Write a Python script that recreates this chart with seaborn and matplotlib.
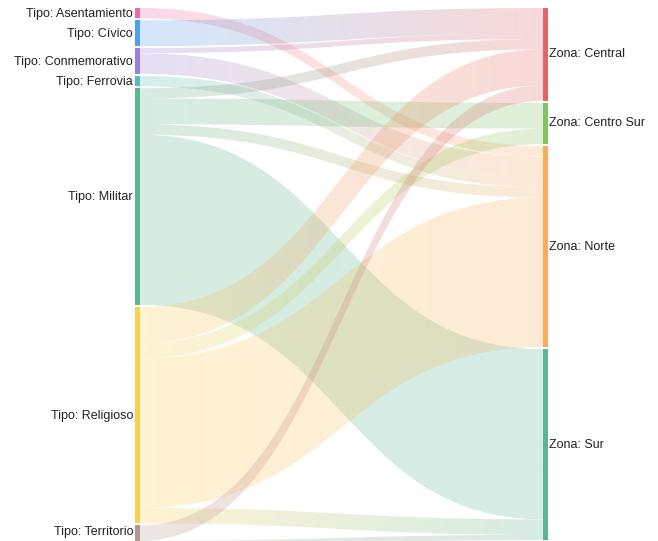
import numpy as np
import matplotlib.pyplot as plt
from matplotlib.path import Path
from matplotlib.patches import PathPatch, Rectangle
import seaborn as sns

# nodes
sources = ["Tipo: Asentamiento", "Tipo: Cívico", "Tipo: Conmemorativo", "Tipo: Ferrovia",
           "Tipo: Militar", "Tipo: Religioso", "Tipo: Territorio"]
targets = ["Zona: Central", "Zona: Centro Sur", "Zona: Norte", "Zona: Sur"]

source_colors = ["#ee6aa7", "#4f9ef0", "#9a80dd", "#55bdb8", "#5cb38f", "#fcd04f", "#b39a90"]
target_colors = ["#e36565", "#85c262", "#f8ad5c", "#5cb395"]

# links (source, target, value)
link_source = ["Tipo: Asentamiento", "Tipo: Cívico", "Tipo: Conmemorativo", "Tipo: Conmemorativo",
               "Tipo: Ferrovia", "Tipo: Militar", "Tipo: Militar", "Tipo: Militar", "Tipo: Militar",
               "Tipo: Religioso", "Tipo: Religioso", "Tipo: Religioso", "Tipo: Religioso",
               "Tipo: Territorio", "Tipo: Territorio"]
link_target = ["Zona: Norte", "Zona: Central", "Zona: Central", "Zona: Norte",
               "Zona: Norte", "Zona: Central", "Zona: Centro Sur", "Zona: Norte", "Zona: Sur",
               "Zona: Central", "Zona: Centro Sur", "Zona: Norte", "Zona: Sur",
               "Zona: Central", "Zona: Sur"]
link_value = [2, 5, 1, 4,
              2, 2, 5, 2, 33,
              7, 3, 29, 3,
              3, 1]

sns.set_style("white")
plt.rcParams['font.family'] = ['Liberation Sans', 'DejaVu Sans']

W, H = 658, 541
fig = plt.figure(figsize=(W / 100, H / 100), dpi=100)
ax = fig.add_axes([0, 0, 1, 1])
ax.set_xlim(0, W)
ax.set_ylim(H, 0)
ax.axis('off')

top, chart_h, gap = 8, 538, 2
node_w = 5
x_left, x_right = 135, 543

src_tot = {s: sum(v for ls, v in zip(link_source, link_value) if ls == s) for s in sources}
tgt_tot = {t: sum(v for lt, v in zip(link_target, link_value) if lt == t) for t in targets}
ky = min((chart_h - gap * (len(sources) - 1)) / sum(src_tot.values()),
         (chart_h - gap * (len(targets) - 1)) / sum(tgt_tot.values()))

def stack(names, tot):
    pos, y = {}, top
    for n in names:
        pos[n] = y
        y += tot[n] * ky + gap
    return pos

src_y = stack(sources, src_tot)
tgt_y = stack(targets, tgt_tot)

# link offsets: at source sorted by target order, at target by source order
links = list(zip(link_source, link_target, link_value))
src_off = {}
for s in sources:
    y = src_y[s]
    for l in sorted([l for l in links if l[0] == s], key=lambda l: targets.index(l[1])):
        src_off[l] = y
        y += l[2] * ky
tgt_off = {}
for t in targets:
    y = tgt_y[t]
    for l in sorted([l for l in links if l[1] == t], key=lambda l: sources.index(l[0])):
        tgt_off[l] = y
        y += l[2] * ky

xa, xb = x_left + node_w, x_right
xm = (xa + xb) / 2
for l in links:
    s, t, v = l
    ya, yb, w = src_off[l], tgt_off[l], v * ky
    verts = [(xa, ya), (xm, ya), (xm, yb), (xb, yb), (xb, yb + w),
             (xm, yb + w), (xm, ya + w), (xa, ya + w), (xa, ya)]
    codes = [Path.MOVETO, Path.CURVE4, Path.CURVE4, Path.CURVE4, Path.LINETO,
             Path.CURVE4, Path.CURVE4, Path.CURVE4, Path.CLOSEPOLY]
    patch = PathPatch(Path(verts, codes), facecolor='none', edgecolor='none')
    ax.add_patch(patch)
    # gradient from source colour to target colour
    pal = sns.blend_palette([source_colors[sources.index(s)], target_colors[targets.index(t)]],
                            n_colors=64)
    grad = np.ones((1, 64, 4))
    grad[0, :, :3] = np.array(pal)[:, :3]
    grad[0, :, 3] = 0.25
    lo, hi = min(ya, yb), max(ya, yb) + w
    im = ax.imshow(grad, extent=(xa, xb, hi, lo), aspect='auto', interpolation='bilinear',
                   zorder=1)
    im.set_clip_path(patch)

for n, c in zip(sources, source_colors):
    h = src_tot[n] * ky
    ax.add_patch(Rectangle((x_left, src_y[n]), node_w, h, color=c, lw=0, zorder=3))
    ax.text(x_left - 2, min(src_y[n] + h / 2 + 1, H - 9), n, ha='right', va='center',
            fontsize=9, color='#222222')
for n, c in zip(targets, target_colors):
    h = tgt_tot[n] * ky
    ax.add_patch(Rectangle((x_right, tgt_y[n]), node_w, h, color=c, lw=0, zorder=3))
    ax.text(x_right + node_w + 1, tgt_y[n] + h / 2, n, ha='left', va='center', fontsize=9,
            color='#222222')

fig.savefig('out.png', dpi=100)
